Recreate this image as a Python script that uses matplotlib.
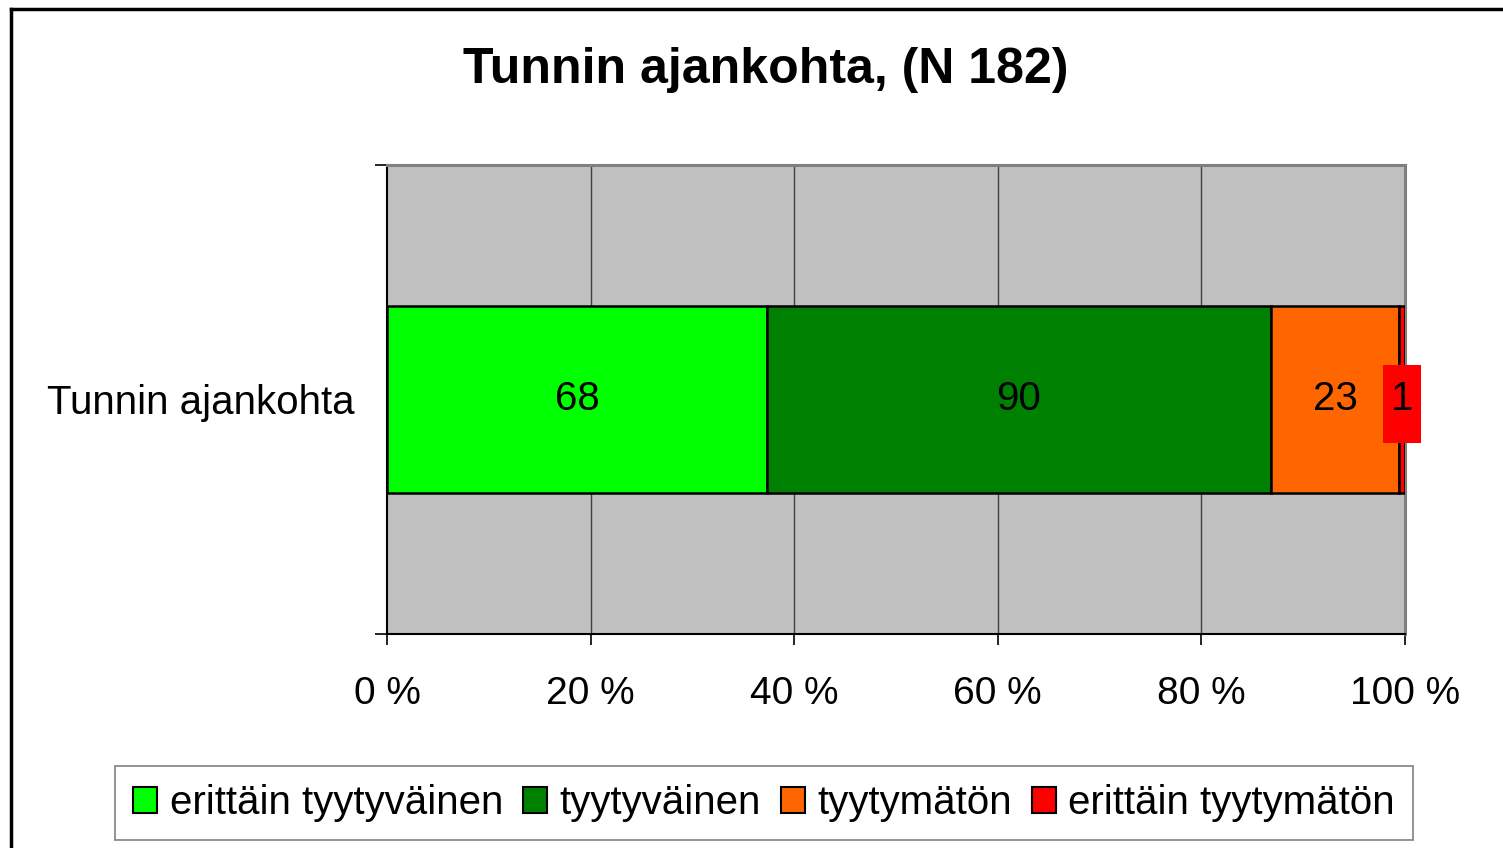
"""Stacked 100 % bar: Tunnin ajankohta satisfaction survey."""

import matplotlib

matplotlib.use("Agg")
import matplotlib.pyplot as plt
from matplotlib.lines import Line2D
from matplotlib.patches import Patch, Rectangle

plt.rcParams["font.family"] = ["Liberation Sans", "DejaVu Sans"]

category = "Tunnin ajankohta"
series_names = ["erittäin tyytyväinen", "tyytyväinen", "tyytymätön", "erittäin tyytymätön"]
counts = [68, 90, 23, 1]
colors = ["#00FF00", "#008000", "#FF6600", "#FF0000"]
x_ticks = [0, 20, 40, 60, 80, 100]
x_tick_labels = ["0 %", "20 %", "40 %", "60 %", "80 %", "100 %"]

total = sum(counts)
shares = [c / total * 100 for c in counts]

W, H = 1503, 848
AX_L, AX_R, AX_T, AX_B = 387, 1405, 165, 634
fig = plt.figure(figsize=(W / 100, H / 100), dpi=100)
ax = fig.add_axes([AX_L / W, 1 - AX_B / H, (AX_R - AX_L) / W, (AX_B - AX_T) / H])
ax.set_facecolor("#C0C0C0")

# size of the filled label box used for tiny segments, in pixels
box_w_px, box_h_px = 38, 78
box_w = box_w_px / (AX_R - AX_L) * 100
box_h = box_h_px / (AX_B - AX_T)

left = 0
for name, share, count, color in zip(series_names, shares, counts, colors):
    ax.barh(0, share, left=left, height=0.4, color=color, edgecolor="black",
            linewidth=1.8, label=name, zorder=3)
    cx = left + share / 2
    if share < 3:
        ax.add_patch(Rectangle((cx - box_w / 2, -box_h / 2 - 0.01), box_w, box_h,
                               facecolor=color, edgecolor="none", zorder=4, clip_on=False))
    ax.text(cx, 0, str(count), ha="center", va="center", fontsize=29, zorder=5)
    left += share

ax.set_xlim(0, 100)
ax.set_ylim(-0.5, 0.5)
ax.set_xticks(x_ticks)
ax.set_xticklabels(x_tick_labels, fontsize=28)
ax.tick_params(axis="x", direction="out", length=8, width=1.2, pad=22)
ax.set_yticks([0])
ax.set_yticklabels([category], fontsize=29)
ax.tick_params(axis="y", which="major", length=0, pad=23)
ax.set_yticks([-0.5, 0.5], minor=True)
ax.tick_params(axis="y", which="minor", direction="out", length=9, width=1.2)

for x in x_ticks[1:-1]:
    ax.axvline(x, color="#404040", linewidth=1.0, zorder=1)

ax.spines["left"].set_color("black")
ax.spines["left"].set_linewidth(1.5)
ax.spines["bottom"].set_color("black")
ax.spines["bottom"].set_linewidth(1.5)
ax.spines["top"].set_color("#808080")
ax.spines["top"].set_linewidth(2.2)
ax.spines["right"].set_color("#808080")
ax.spines["right"].set_linewidth(2.2)

fig.text(766 / W, 1 - 70 / H, "Tunnin ajankohta, (N 182)", ha="center", va="center",
         fontsize=36, fontweight="bold")

handles = [Patch(facecolor=c, edgecolor="black", linewidth=1.5) for c in colors]
leg = fig.legend(handles, series_names, loc="center", bbox_to_anchor=(764 / W, 1 - 803 / H),
                 ncol=4, fontsize=29, frameon=True, fancybox=False, shadow=False,
                 handlelength=0.6, handleheight=0.6, handletextpad=0.3, columnspacing=0.5,
                 borderpad=0.45, borderaxespad=0)
leg.get_frame().set_edgecolor("#606060")
leg.get_frame().set_linewidth(1.2)

# outer chart border (only left and top edges are visible in the crop)
fig.add_artist(Line2D([11 / W, 11 / W], [0, 1 - 9 / H], transform=fig.transFigure,
                      color="black", linewidth=2.5))
fig.add_artist(Line2D([11 / W, 1], [1 - 9 / H, 1 - 9 / H], transform=fig.transFigure,
                      color="black", linewidth=2.5))

fig.savefig("out.png", dpi=100)
